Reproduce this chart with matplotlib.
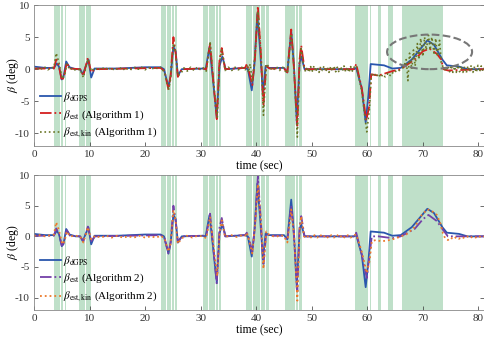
import matplotlib.pyplot as plt
from matplotlib.patches import Ellipse

plt.rcParams['font.family'] = ['Liberation Serif', 'DejaVu Serif']
plt.rcParams['mathtext.fontset'] = 'stix'
plt.rcParams['axes.unicode_minus'] = False

# shaded intervals (sec)
bands = [(3.6, 4.6), (4.8, 5.3), (5.5, 5.8), (8.1, 9.2), (9.4, 10.2),
         (22.9, 23.8), (24.0, 24.7), (24.9, 25.2), (25.4, 25.7),
         (30.4, 31.3), (31.5, 32.5), (32.7, 33.1), (33.3, 33.6),
         (38.2, 39.2), (39.4, 40.6), (40.8, 41.6), (41.8, 42.3),
         (45.1, 46.9), (47.1, 47.5), (47.7, 48.2),
         (57.7, 60.1), (60.4, 60.7), (62.0, 62.5), (63.7, 64.7), (66.2, 73.6)]

# beta dGPS (time, deg)
gps_pts = [(0, 0.4), (2, 0.2), (3.6, 0.2), (4.1, 0.9), (4.5, 0.4), (5.0, -1.6), (5.3, -1.3),
           (5.8, 1.2), (6.4, 0.3), (7.5, 0.0), (8.3, 0.0), (8.8, -0.8), (9.3, 0.4), (9.8, 1.5),
           (10.3, -1.3), (10.9, 0.1), (15, 0.1), (20, 0.3), (22.8, 0.3), (23.4, 0.0),
           (24.2, -2.8), (24.6, -1.0), (25.1, 3.5), (25.5, 2.8), (25.9, -1.0), (26.6, 0.0),
           (30.4, 0.1), (30.9, 0.0), (31.6, 3.5), (32.2, -1.5), (32.9, -7.6), (33.4, 0.5),
           (33.9, 2.0), (34.5, 0.0), (38.0, 0.2), (38.5, 0.0), (39.2, -3.3), (39.7, 1.0),
           (40.2, 8.6), (40.7, 3.0), (41.2, -3.8), (41.7, 0.5), (42.3, 0.2), (45.0, 0.2),
           (45.6, -0.5), (46.3, 6.0), (46.8, 0.5), (47.3, -8.6), (47.8, 1.0), (48.1, 2.0),
           (48.7, 0.0), (57.6, 0.0), (58.0, 0.2), (59.0, -3.0), (59.7, -8.3), (60.2, -4.0),
           (60.6, 0.8), (63.0, 0.6), (64.5, 0.1), (66.0, 0.2), (68.0, 1.5), (70.8, 4.5),
           (72.0, 3.8), (73.5, 1.5), (74.3, 0.6), (76.5, 0.4), (78.0, 0.0), (81, 0.0)]

# beta est (Algorithm 1)
est1_pts = [(0, 0.1), (3.6, 0.1), (4.0, 1.5), (4.5, 0.5), (5.0, -1.8), (5.4, -1.2), (5.9, 1.0),
            (6.5, 0.1), (8.3, 0.0), (8.9, -1.0), (9.7, 1.8), (10.3, -0.5), (11, 0.0),
            (22.8, 0.2), (23.5, -0.3), (24.2, -3.2), (24.6, -1.0), (25.1, 5.0), (25.5, 2.5),
            (25.9, -1.2), (26.6, 0.0), (30.4, 0.1), (31.0, 0.0), (31.7, 4.0), (32.3, -2.0),
            (32.9, -7.8), (33.4, 1.5), (33.8, 3.3), (34.4, 0.0), (38.0, 0.2), (38.3, 0.8),
            (38.6, 0.0), (39.3, -2.5), (39.8, 2.0), (40.3, 9.8), (40.8, 3.0), (41.3, -5.5),
            (41.8, 0.5), (42.4, 0.1), (45.0, 0.1), (45.6, -0.5), (46.3, 6.2), (46.8, 0.0),
            (47.4, -8.8), (47.8, 1.5), (48.1, 3.7), (48.7, 0.0), (57.6, 0.0), (58.0, 0.8),
            (59.0, -3.0), (59.8, -8.0), (60.3, -6.0), (60.7, -0.8), (62.0, -1.0), (64.5, -0.3),
            (66.0, 0.0), (68.5, 1.5), (70.0, 2.8), (71.2, 3.2), (72.5, 2.4), (73.3, 1.5),
            (73.7, 0.0), (74.5, -0.2), (81, 0.0)]

# beta est,kin (Algorithm 1)
kin1_pts = [(0, 0.2), (0.5, -0.1), (1, 0.3), (1.5, 0.0), (2, 0.3), (2.5, -0.1), (3, 0.2),
            (3.6, 0.3), (4.0, 2.5), (4.5, 1.0), (5.1, -1.5), (5.5, -1.0), (5.9, 0.8),
            (6.5, -0.1), (7.0, 0.2), (7.5, -0.2), (8.3, 0.0), (8.9, -1.3), (9.7, 1.6),
            (10.3, -0.3), (11, 0.2), (11.6, -0.2), (12.2, 0.3), (12.8, -0.1), (13.4, 0.3),
            (14, -0.2), (14.6, 0.2), (15.2, -0.1), (15.8, 0.3), (16.4, -0.2), (17, 0.2),
            (17.6, -0.1), (18.2, 0.3), (18.8, 0.0), (19.4, 0.3), (20, -0.1), (20.6, 0.3),
            (21.2, 0.0), (21.8, 0.3), (22.4, 0.0), (22.8, 0.3), (23.5, -0.5), (24.2, -3.3),
            (24.6, -1.5), (25.1, 4.0), (25.5, 2.5), (25.9, -1.0), (26.5, -0.6), (27, 0.2),
            (27.6, -0.3), (28.2, 0.3), (28.8, -0.2), (29.4, 0.3), (30, -0.1), (30.5, 0.2),
            (31.0, -0.3), (31.7, 4.3), (32.3, -2.0), (33.0, -7.5), (33.4, 1.0), (33.8, 3.0),
            (34.4, -0.2), (35, 0.3), (35.6, -0.2), (36.2, 0.3), (36.8, -0.1), (37.4, 0.3),
            (38, -0.1), (38.4, 0.5), (38.6, -0.5), (38.9, 0.8), (39.3, -2.0), (39.8, 2.5),
            (40.3, 9.0), (40.8, 3.0), (41.3, -7.2), (41.8, 0.8), (42.4, 0.3), (43, -0.2),
            (43.6, 0.4), (44.2, -0.2), (44.8, 0.3), (45.3, -0.4), (45.6, -0.6), (46.3, 5.5),
            (46.8, 0.5), (47.4, -10.6), (47.8, 1.0), (48.1, 3.2), (48.6, 0.2), (48.9, -0.4),
            (49.2, 0.3), (49.5, -0.5), (49.8, 0.4), (50.1, -0.3), (50.4, 0.5), (50.7, -0.4),
            (51.0, 0.3), (51.3, -0.5), (51.6, 0.4), (51.9, -0.2), (52.2, 0.5), (52.5, -0.4),
            (52.8, 0.3), (53.1, -0.5), (53.4, 0.4), (53.7, -0.3), (54.0, 0.5), (54.3, -0.4),
            (54.6, 0.3), (54.9, -0.5), (55.2, 0.4), (55.5, -0.3), (55.8, 0.5), (56.1, -0.4),
            (56.4, 0.3), (56.7, -0.5), (57.0, 0.4), (57.3, -0.3), (57.6, 0.3), (58.0, 0.6),
            (59.0, -3.5), (59.9, -9.8), (60.4, -6.0), (60.7, -1.0), (61.2, -0.6), (61.6, -1.2),
            (62.0, -0.7), (62.4, -1.3), (62.8, -0.8), (63.2, -1.2), (63.6, -0.7), (64.0, -1.1),
            (64.4, -0.5), (64.8, -0.7), (65.2, -0.2), (65.6, -0.3), (66.0, 0.0), (66.5, 0.3),
            (67.0, 1.5), (67.3, -1.8), (67.6, 2.5), (68.0, 0.0), (68.3, 3.0), (68.6, 0.5),
            (69.0, 4.0), (69.3, 1.5), (69.6, 4.8), (70.0, 2.0), (70.3, 5.0), (70.6, 3.0),
            (71.0, 5.3), (71.3, 3.0), (71.6, 5.0), (72.0, 2.5), (72.3, 4.8), (72.6, 2.0),
            (73.0, 4.5), (73.3, 1.0), (73.7, 0.2), (74.2, -0.3), (74.5, 0.5), (74.8, -0.4),
            (75.1, 0.6), (75.4, -0.5), (75.7, 0.4), (76.0, -0.5), (76.3, 0.6), (76.6, -0.4),
            (76.9, 0.5), (77.2, -0.5), (77.5, 0.4), (77.8, -0.6), (78.1, 0.5), (78.4, -0.4),
            (78.7, 0.6), (79.0, -0.5), (79.3, 0.4), (79.6, -0.5), (79.9, 0.6), (80.2, -0.4),
            (80.5, 0.5), (80.8, -0.3), (81, 0.2)]

# beta est (Algorithm 2)
est2_pts = [(0, 0.1), (3.6, 0.1), (4.0, 1.3), (4.5, 0.5), (5.0, -1.5), (5.4, -1.0), (5.9, 1.0),
            (6.5, 0.1), (8.3, 0.0), (8.9, -0.8), (9.7, 1.6), (10.3, -0.8), (11, 0.0),
            (22.8, 0.2), (23.5, -0.3), (24.2, -2.8), (24.6, -1.0), (25.1, 5.0), (25.5, 2.5),
            (25.9, -1.0), (26.6, 0.0), (30.4, 0.1), (31.0, 0.0), (31.7, 3.7), (32.3, -2.0),
            (32.9, -7.8), (33.4, 1.5), (33.8, 3.0), (34.4, 0.0), (38.0, 0.2), (38.3, 0.6),
            (38.6, 0.0), (39.3, -2.5), (39.8, 2.0), (40.3, 9.8), (40.8, 3.0), (41.3, -4.5),
            (41.8, 0.5), (42.4, 0.1), (45.0, 0.1), (45.6, -0.6), (46.3, 5.0), (46.8, 0.0),
            (47.4, -9.0), (47.8, 1.5), (48.1, 3.3), (48.7, 0.0), (57.6, 0.0), (58.0, 0.6),
            (59.0, -3.0), (59.9, -6.8), (60.4, -3.0), (60.8, 0.0), (62.0, 0.0), (64.5, -0.3),
            (66.0, 0.0), (68.5, 1.2), (70.0, 2.8), (71.0, 3.5), (72.5, 2.5), (73.5, 1.2),
            (74.5, 0.0), (81, 0.0)]

# beta est,kin (Algorithm 2)
kin2_pts = [(0, 0.1), (1, 0.2), (2, 0.0), (3, 0.2), (3.6, 0.3), (4.0, 2.3), (4.5, 1.0),
            (5.1, -1.3), (5.5, -0.8), (5.9, 0.8), (6.5, 0.0), (7.5, 0.1), (8.3, 0.0),
            (8.9, -1.0), (9.7, 1.5), (10.3, -0.5), (11, 0.1), (12, -0.2), (13, 0.1), (14, -0.2),
            (15, 0.1), (16, -0.2), (17, 0.0), (18, -0.2), (19, 0.1), (20, -0.2), (21, 0.0),
            (22, -0.2), (22.8, 0.1), (23.5, -0.3), (24.2, -2.5), (24.6, -1.2), (25.1, 4.3),
            (25.5, 2.5), (25.9, -1.2), (26.6, -0.3), (27.5, 0.1), (28.5, -0.2), (29.5, 0.1),
            (30.4, 0.0), (31.0, -0.3), (31.7, 3.2), (32.3, -1.5), (33.0, -6.5), (33.4, 0.5),
            (33.8, 2.6), (34.4, -0.1), (35.5, 0.2), (36.5, -0.1), (37.5, 0.2), (38.0, 0.1),
            (38.3, 0.6), (38.6, -0.3), (39.3, -2.8), (39.8, 2.0), (40.3, 8.5), (40.8, 3.0),
            (41.3, -5.3), (41.8, 0.8), (42.4, 0.2), (43.5, -0.1), (44.5, 0.2), (45.0, 0.0),
            (45.6, -1.0), (46.3, 4.4), (46.8, 0.5), (47.4, -10.5), (47.8, 1.0), (48.1, 3.3),
            (48.6, 0.0), (49.0, -0.3), (49.5, 0.2), (50.0, -0.3), (50.5, 0.2), (51.0, -0.2),
            (51.5, 0.3), (52.0, -0.2), (52.5, 0.2), (53.0, -0.3), (53.5, 0.2), (54.0, -0.2),
            (54.5, 0.3), (55.0, -0.2), (55.5, 0.2), (56.0, -0.3), (56.5, 0.2), (57.0, -0.2),
            (57.6, 0.2), (58.0, 0.3), (59.0, -2.5), (59.9, -6.0), (60.4, -4.0), (60.8, -0.8),
            (61.5, -0.6), (62.5, -0.8), (63.5, -0.7), (64.5, -0.5), (65.5, -0.2), (66.0, 0.0),
            (67.0, 0.3), (68.5, 1.5), (69.8, 3.5), (70.8, 4.4), (71.5, 4.2), (72.5, 3.5),
            (73.2, 2.0), (73.6, 0.5), (74.0, -0.3), (74.5, -0.6), (75.0, -0.2), (75.5, -0.5),
            (76.0, -0.1), (76.5, -0.4), (77.0, -0.1), (77.5, -0.3), (78.0, 0.0), (78.5, -0.3),
            (79.0, 0.0), (79.5, -0.2), (80.0, 0.1), (80.5, -0.2), (81, 0.0)]

xticks = [0, 10, 20, 30, 40, 50, 60, 70, 80]
yticks = [-10, -5, 0, 5, 10]

green = '#bfe0c9'
blue = '#2a56ad'


def split(pts):
    return [p[0] for p in pts], [p[1] for p in pts]


def style_axes(ax):
    for t0, t1 in bands:
        ax.axvspan(t0, t1, color=green, lw=0, zorder=0)
    ax.set_xlim(0, 81)
    ax.set_ylim(-12, 10)
    ax.set_xticks(xticks)
    ax.set_yticks(yticks)
    ax.tick_params(direction='in', length=3, width=0.5, labelsize=8, pad=3,
                   top=False, right=True, colors='#333333')
    for s in ax.spines.values():
        s.set_color('#888888')
        s.set_linewidth(0.6)
    ax.set_xlabel('time (sec)', fontsize=8.5, labelpad=1)
    ax.set_ylabel(r'$\beta$ (deg)', fontsize=8.5, va='center')
    ax.yaxis.set_label_coords(-0.047, 0.5)


fig = plt.figure(figsize=(4.85, 3.42), dpi=100)
ax1 = fig.add_axes([0.070, 0.573, 0.928, 0.412])
ax2 = fig.add_axes([0.070, 0.094, 0.928, 0.394])

# top panel - Algorithm 1
style_axes(ax1)
t, y = split(gps_pts)
ax1.plot(t, y, color=blue, lw=1.3, label=r'$\beta_{\mathrm{dGPS}}$')
t, y = split(est1_pts)
ax1.plot(t, y, color='#d41f1f', lw=1.3, ls='-.', label=r'$\beta_{\mathrm{est}}$ (Algorithm 1)')
t, y = split(kin1_pts)
ax1.plot(t, y, color='#6b7626', lw=1.2, ls=':', label=r'$\beta_{\mathrm{est,kin}}$ (Algorithm 1)')
ax1.add_patch(Ellipse((71.2, 2.7), 15.3, 5.4, fill=False, ec='#777777', ls='--', lw=1.5, zorder=5))
ax1.legend(loc='lower left', bbox_to_anchor=(0.0, 0.0), frameon=False, fontsize=8,
           handlelength=1.9, handletextpad=0.2, labelspacing=0.4, borderaxespad=0.1)

# bottom panel - Algorithm 2
style_axes(ax2)
t, y = split(gps_pts)
ax2.plot(t, y, color=blue, lw=1.3, label=r'$\beta_{\mathrm{dGPS}}$')
t, y = split(est2_pts)
ax2.plot(t, y, color='#7440a8', lw=1.3, ls='-.', label=r'$\beta_{\mathrm{est}}$ (Algorithm 2)')
t, y = split(kin2_pts)
ax2.plot(t, y, color='#ec7a2a', lw=1.3, ls=':', label=r'$\beta_{\mathrm{est,kin}}$ (Algorithm 2)')
ax2.legend(loc='lower left', bbox_to_anchor=(0.0, 0.0), frameon=False, fontsize=8,
           handlelength=1.9, handletextpad=0.2, labelspacing=0.4, borderaxespad=0.1)

fig.savefig('out.png', dpi=100)
